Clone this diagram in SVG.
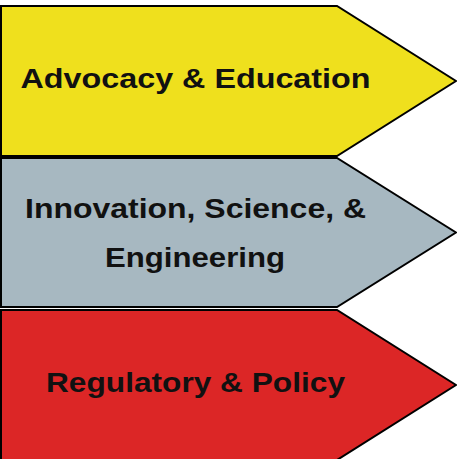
<svg xmlns="http://www.w3.org/2000/svg" width="457" height="459" viewBox="0 0 457 459">
<style>
.arrow{stroke:#000;stroke-width:2;stroke-linejoin:miter}
.lbl{font-family:"Liberation Sans",Arial,sans-serif;font-weight:bold;font-size:28px;fill:#111;text-anchor:middle}
</style>
<rect width="457" height="459" fill="#fff"/>
<g id="advocacy">
<polygon class="arrow" fill="#EFE01D" points="1,6 337,6 456,81 337,156 1,156"/>
<text class="lbl" x="195.5" y="88" textLength="350" lengthAdjust="spacingAndGlyphs">Advocacy &amp; Education</text>
</g>
<g id="innovation">
<polygon class="arrow" fill="#A7B8C1" points="1,158 337,158 456,232.5 337,307 1,307"/>
<text class="lbl" x="195.5" y="218" textLength="341" lengthAdjust="spacingAndGlyphs">Innovation, Science, &amp;</text>
<text class="lbl" x="195" y="267" textLength="180" lengthAdjust="spacingAndGlyphs">Engineering</text>
</g>
<g id="regulatory">
<polygon class="arrow" fill="#DC2626" points="1,310 337,310 456,385 337,460 1,460"/>
<text class="lbl" x="195.5" y="392" textLength="299" lengthAdjust="spacingAndGlyphs">Regulatory &amp; Policy</text>
</g>
<g id="connectors"/>
</svg>
